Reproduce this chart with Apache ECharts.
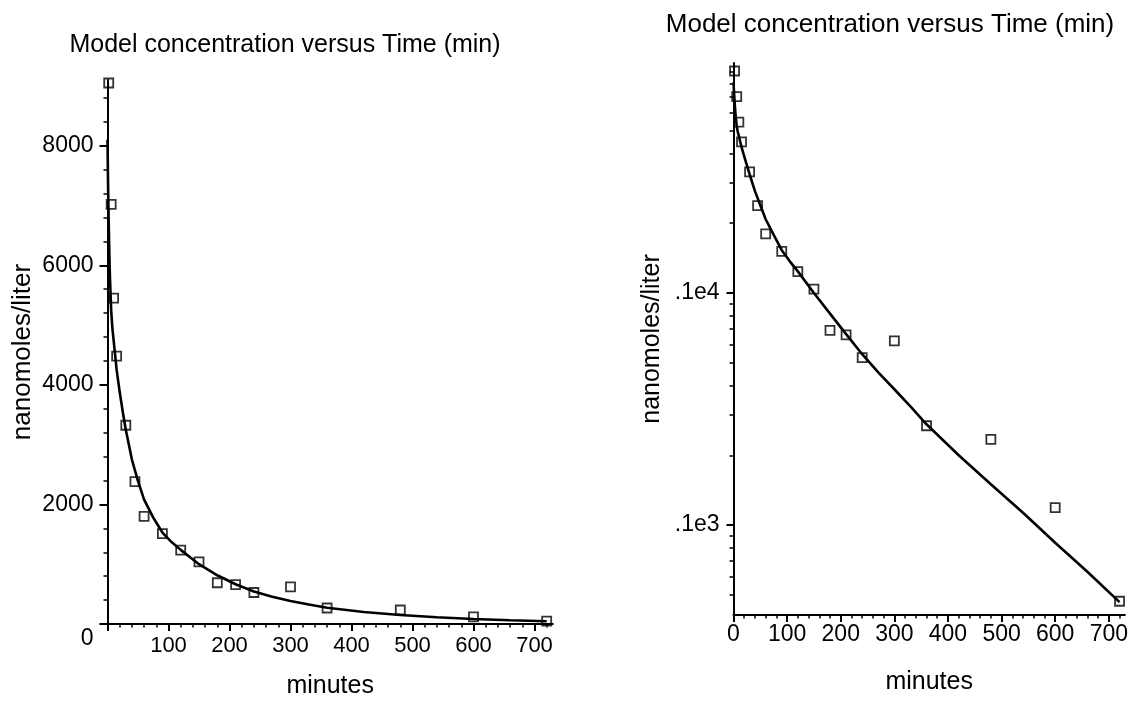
<!DOCTYPE html>
<html><head><meta charset="utf-8">
<script src="https://cdn.jsdelivr.net/npm/echarts@6/dist/echarts.min.js"></script>
<style>html,body{margin:0;padding:0;background:#fff}#c{width:1131px;height:704px}</style>
</head><body><div id="c"></div>
<script>
// ---- data ----
const titleText = 'Model concentration versus Time (min)';
const xName = 'minutes';
const yName = 'nanomoles/liter';
const times = [2, 6, 10, 15, 30, 45, 60, 90, 120, 150, 180, 210, 240, 300, 360, 480, 600, 720];
const concentrations = [9050, 7020, 5450, 4480, 3325, 2380, 1800, 1513, 1237, 1040, 690, 660, 527, 622, 268, 234, 119, 47];
const modelTimes = [0, 1, 2, 3, 4, 6, 8, 10, 15, 20, 25, 30, 40, 50, 60, 75, 90, 105, 120, 150, 180, 210, 240, 270, 300, 330, 360, 420, 480, 540, 600, 660, 720];
const modelValues = [8100, 7300, 6700, 6200, 5800, 5250, 4950, 4750, 4250, 3880, 3550, 3250, 2750, 2390, 2080, 1780, 1530, 1370, 1240, 1000, 815, 665, 545, 455, 385, 325, 272, 200, 150, 113, 84, 63, 46.6];
// tick values
const xMajorTicks = [0, 100, 200, 300, 400, 500, 600, 700];
const xLabelsLeft = [100, 200, 300, 400, 500, 600, 700];
const xLabelsRight = [0, 100, 200, 300, 400, 500, 600, 700];
const xMinorTicks = [20, 40, 60, 80, 120, 140, 160, 180, 220, 240, 260, 280, 320, 340, 360, 380, 420, 440, 460, 480, 520, 540, 560, 580, 620, 640, 660, 680, 720];
const yLinearTicks = [0, 2000, 4000, 6000, 8000];
const yLinearMinor = [400, 800, 1200, 1600, 2400, 2800, 3200, 3600, 4400, 4800, 5200, 5600, 6400, 6800, 7200, 7600, 8400, 8800];
const yLogTicks = [100, 1000];
const yLogMinor = [50, 60, 70, 80, 90, 200, 300, 400, 500, 600, 700, 800, 900, 2000, 3000, 4000, 5000, 6000, 7000, 8000, 9000];

const FONT = 'Liberation Sans, Arial, sans-serif';
const BLACK = '#000';
const modelPairs = modelTimes.map((t, i) => [t, modelValues[i]]);
const dataPairs = times.map((t, i) => [t, concentrations[i]]);

function mainX(grid, labels, margin, nameGap, fs) {
  return {
    gridIndex: grid, type: 'value', min: 0, max: 730, position: 'bottom',
    axisLine: { show: true, onZero: false, lineStyle: { color: BLACK, width: 2 } },
    axisTick: { show: true, inside: false, length: 7, customValues: xMajorTicks, lineStyle: { color: BLACK, width: 2 } },
    axisLabel: { customValues: labels, margin: margin, color: BLACK, fontSize: fs, fontFamily: FONT },
    splitLine: { show: false },
    name: xName, nameLocation: 'middle', nameGap: nameGap,
    nameTextStyle: { color: BLACK, fontSize: 25, fontFamily: FONT }
  };
}
function minorX(grid) {
  return {
    gridIndex: grid, type: 'value', min: 0, max: 730, position: 'bottom',
    axisLine: { show: false },
    axisTick: { show: true, inside: false, length: 3.5, customValues: xMinorTicks, lineStyle: { color: BLACK, width: 1.5 } },
    axisLabel: { show: false }, splitLine: { show: false }
  };
}

const option = {
  backgroundColor: '#fff',
  animation: false,
  title: [
    { text: titleText, left: 280, top: 28, textAlign: 'center',
      textStyle: { color: BLACK, fontSize: 25, fontWeight: 'normal', fontFamily: FONT } },
    { text: titleText, left: 885, top: 7, textAlign: 'center',
      textStyle: { color: BLACK, fontSize: 26, fontWeight: 'normal', fontFamily: FONT } }
  ],
  grid: [
    { left: 107.5, top: 80, width: 445.3, height: 548.3, containLabel: false },
    { left: 733.5, top: 63, width: 393.9, height: 552, containLabel: false }
  ],
  xAxis: [
    mainX(0, xLabelsLeft, 11, 50, 22),
    minorX(0),
    mainX(1, xLabelsRight, 8, 55, 23),
    minorX(1)
  ],
  yAxis: [
    {
      gridIndex: 0, type: 'value', min: 0, max: 9100, position: 'left',
      axisLine: { show: true, onZero: false, lineStyle: { color: BLACK, width: 2 } },
      axisTick: { show: true, inside: false, length: 8, customValues: yLinearTicks, lineStyle: { color: BLACK, width: 2 } },
      axisLabel: {
        customValues: yLinearTicks, margin: 14, color: BLACK, fontSize: 23, fontFamily: FONT,
        formatter: v => v === 0 ? '{z|0}' : String(v),
        rich: { z: { fontSize: 23, fontFamily: FONT, color: BLACK, padding: [30, 0, 0, 0] } }
      },
      splitLine: { show: false },
      name: yName, nameLocation: 'middle', nameGap: 72,
      nameTextStyle: { color: BLACK, fontSize: 26, fontFamily: FONT }
    },
    {
      gridIndex: 0, type: 'value', min: 0, max: 9100, position: 'left',
      axisLine: { show: false },
      axisTick: { show: true, inside: false, length: 4, customValues: yLinearMinor, lineStyle: { color: BLACK, width: 1.5 } },
      axisLabel: { show: false }, splitLine: { show: false }
    },
    {
      gridIndex: 1, type: 'log', logBase: 10, min: 41, max: 9800, position: 'left',
      axisLine: { show: true, onZero: false, lineStyle: { color: BLACK, width: 2 } },
      axisTick: { show: true, inside: false, length: 7, customValues: yLogTicks, lineStyle: { color: BLACK, width: 2 } },
      axisLabel: {
        customValues: yLogTicks, margin: 14, color: BLACK, fontSize: 23, fontFamily: FONT,
        formatter: v => '.1e' + (Math.round(Math.log10(v)) + 1)
      },
      splitLine: { show: false },
      name: yName, nameLocation: 'middle', nameGap: 69,
      nameTextStyle: { color: BLACK, fontSize: 25, fontFamily: FONT }
    },
    {
      gridIndex: 1, type: 'log', logBase: 10, min: 41, max: 9800, position: 'left',
      axisLine: { show: false },
      axisTick: { show: true, inside: false, length: 4, customValues: yLogMinor, lineStyle: { color: BLACK, width: 1.5 } },
      axisLabel: { show: false }, splitLine: { show: false }
    }
  ],
  series: [
    { type: 'line', xAxisIndex: 0, yAxisIndex: 0, data: modelPairs, showSymbol: false, smooth: false,
      lineStyle: { color: BLACK, width: 2.6 }, z: 2 },
    { type: 'scatter', xAxisIndex: 0, yAxisIndex: 0, data: dataPairs, symbol: 'rect', symbolSize: 9,
      itemStyle: { color: 'rgba(0,0,0,0)', borderColor: BLACK, borderWidth: 1.8 }, z: 3 },
    { type: 'line', xAxisIndex: 2, yAxisIndex: 2, data: modelPairs, showSymbol: false, smooth: false,
      lineStyle: { color: BLACK, width: 2.6 }, z: 2 },
    { type: 'scatter', xAxisIndex: 2, yAxisIndex: 2, data: dataPairs, symbol: 'rect', symbolSize: 9,
      itemStyle: { color: 'rgba(0,0,0,0)', borderColor: BLACK, borderWidth: 1.8 }, z: 3 }
  ]
};
const chart = echarts.init(document.getElementById('c'), null, { renderer: 'canvas' });
chart.setOption(option);
</script>
</body></html>
